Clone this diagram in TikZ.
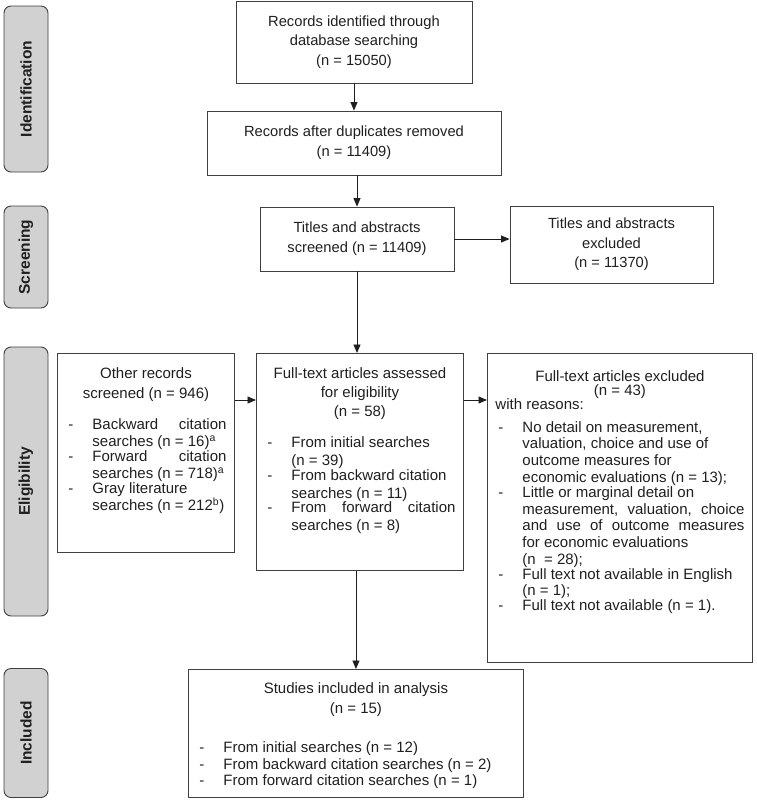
\documentclass[tikz,border=0pt]{standalone}
\usepackage{fontspec}
\setmainfont{Liberation Sans}
\usepackage{xcolor}
\usepackage{tikz}
\usetikzlibrary{arrows.meta}
\definecolor{phasefill}{gray}{0.82}
\definecolor{boxline}{gray}{0.25}
\definecolor{inkgray}{gray}{0.12}
\newcommand{\flowpanel}[4]{\parbox[c][#2][t]{#1}{\vspace*{#3}#4}}
\newcommand{\flowhead}[2]{{\centering\fontsize{15}{#1}\selectfont #2\par}}
\newcommand{\dashitem}[1]{\par\noindent\makebox[27pt][l]{\hspace{3pt}-}%
  \parbox[t]{\dimexpr\linewidth-27pt\relax}{#1}\par}
\tikzset{
    prismaphase/.style={draw=boxline, line width=0.9pt, fill=phasefill, rounded corners=7pt, rotate=90, minimum height=44pt, inner sep=0pt, font=\fontsize{15.5}{18}\selectfont\bfseries, text=inkgray},
    prismabox/.style={draw=boxline, line width=0.9pt, align=center, inner sep=4pt, font=\fontsize{14.7}{19.8}\selectfont, text=inkgray},
    prismalist/.style={draw=boxline, line width=0.9pt, anchor=north west, inner xsep=8pt, inner ysep=0pt, font=\fontsize{15}{17}\selectfont, text=inkgray},
    prismaarrow/.style={draw=inkgray, line width=0.9pt, -{Triangle[length=8.5pt,width=7pt]}}
}
\begin{document}
\begin{tikzpicture}[x=1pt, y=-1pt]
    \useasboundingbox (0,0) rectangle (756,801);
    % phases
    \node[prismaphase, minimum width=166pt] (idphase) at (26,89) {Identification};
    \node[prismaphase, minimum width=102pt] (scrphase) at (26,257) {Screening};
    \node[prismaphase, minimum width=269pt] (eligphase) at (26,481.5) {Eligibility};
    \node[prismaphase, minimum width=129pt] (inclphase) at (26,733) {Included};

    % boxes
    \node[prismabox, minimum width=236pt, minimum height=82pt] (rec) at (354,42) {Records identified through\\database searching\\(n = 15050)};
    \node[prismabox, minimum width=294pt, minimum height=64pt] (dedup) at (354,143) {Records after duplicates removed\\(n = 11409)};
    \node[prismabox, minimum width=194pt, minimum height=64pt] (screened) at (357,239) {Titles and abstracts\\screened (n = 11409)};
    \node[prismabox, minimum width=203pt, minimum height=77pt, font=\fontsize{14.7}{19.5}\selectfont] (excl) at (611.5,244.5) {Titles and abstracts\\excluded\\(n = 11370)};

    \node[prismalist] (other) at (57,353) {\flowpanel{161pt}{199pt}{14pt}{%
        \flowhead{20pt}{Other records\\screened (n = 946)}%
        \vspace{14pt}%
        \dashitem{Backward citation\linebreak searches (n = 16)\textsuperscript{a}}%
        \dashitem{Forward citation\linebreak searches (n = 718)\textsuperscript{a}}%
        \dashitem{Gray literature\newline searches (n = 212\textsuperscript{b})}}};
    \node[prismalist] (fulltext) at (256,353) {\flowpanel{191pt}{217pt}{14pt}{%
        \flowhead{19pt}{Full-text articles assessed\\for eligibility\\(n = 58)}%
        \vspace{12.7pt}\fontsize{15}{18}\selectfont
        \dashitem{From initial searches\newline (n = 39)}%
        \dashitem{From backward citation\newline searches (n = 11)}%
        \dashitem{From forward citation\linebreak searches (n = 8)}}};
    \node[prismalist] (ftexcl) at (487,353) {\flowpanel{249pt}{309pt}{17pt}{%
        {\fontsize{15}{14.3}\selectfont{\centering Full-text articles excluded\\(n = 43)\par}with reasons:\par}%
        \vspace{5.6pt}\fontsize{15}{16.7}\selectfont
        \dashitem{No detail on measurement,\newline valuation, choice and use of\newline outcome measures for\newline economic evaluations (n = 13);}%
        \dashitem{Little or marginal detail on\newline measurement, valuation, choice\linebreak and use of outcome measures\linebreak for economic evaluations\newline (n\ \ = 28);}%
        \dashitem{Full text not available in English\newline (n = 1);}%
        \dashitem{Full text not available (n = 1).}}};
    \node[prismalist] (incl) at (188,669) {\flowpanel{319pt}{128pt}{13.5pt}{%
        \flowhead{20pt}{Studies included in analysis\\(n = 15)}%
        \vspace{22pt}\fontsize{15}{16.7}\selectfont
        \dashitem{From initial searches (n = 12)}%
        \dashitem{From backward citation searches (n = 2)}%
        \dashitem{From forward citation searches (n = 1)}}};

    % arrows
    \draw[prismaarrow] (rec) -- (dedup);
    \draw[prismaarrow] (dedup.south -| screened.north) -- (screened.north);
    \draw[prismaarrow] (screened.east) -- (screened.east -| excl.west);
    \draw[prismaarrow] (screened.south) -- (screened.south |- fulltext.north);
    \draw[prismaarrow] ([yshift=-47pt]other.north east) -- ([yshift=-47pt]fulltext.north west);
    \draw[prismaarrow] ([yshift=-47pt]fulltext.north east) -- ([yshift=-47pt]ftexcl.north west);
    \draw[prismaarrow] (fulltext.south -| incl.north) -- (incl.north);
\end{tikzpicture}
\end{document}
